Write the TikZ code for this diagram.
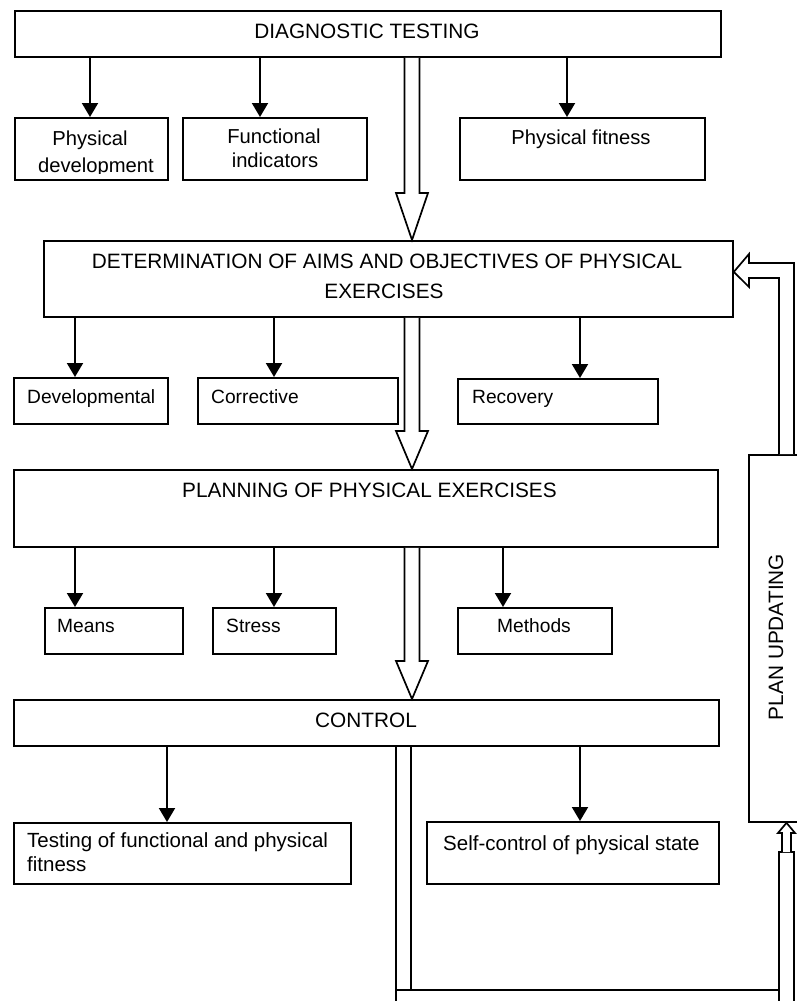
\documentclass[tikz,border=0pt]{standalone}
\usepackage{fontspec}
\setmainfont{Liberation Sans}
\usetikzlibrary{arrows.meta,calc}
\newcommand\hollowdown[3]{%
  \draw[pipe] let \p1=(#1.south), \p2=(#2.north) in
    (404.5pt,\y1) -- (404.5pt,\y2+#3) -- (396pt,\y2+#3) -- (412pt,\y2)
    -- (428pt,\y2+#3) -- (419.5pt,\y2+#3) -- (419.5pt,\y1);}
\begin{document}
\begin{tikzpicture}[x=1pt,y=-1pt,
  box/.style={draw, line width=1.8pt, rectangle, inner sep=0pt, anchor=north west},
  capt/.style={font=\fontsize{20.8}{25}\selectfont, inner sep=0pt},
  rowa/.style={font=\fontsize{20.2}{24}\selectfont, inner sep=0pt},
  rowb/.style={font=\fontsize{19.2}{23}\selectfont, inner sep=0pt},
  rowc/.style={font=\fontsize{20.5}{24}\selectfont, inner sep=0pt},
  arr/.style={line width=2pt, -{Triangle[length=14pt,width=16pt]}},
  pipe/.style={draw, line width=1.7pt, fill=white, line join=miter},
]
\useasboundingbox (0,0) rectangle (797,1001);
\clip (0,0) rectangle (797,1001);

% ---------- boxes ----------
\node[box, minimum width=706pt, minimum height=46pt] (diag) at (14,10) {};
\node[box, minimum width=153pt, minimum height=62pt] (pd) at (14,117) {};
\node[box, minimum width=184pt, minimum height=62pt] (fi) at (182,117) {};
\node[box, minimum width=245pt, minimum height=62pt] (pf) at (459,117) {};
\node[box, minimum width=689pt, minimum height=76pt] (det) at (43,240) {};
\node[box, minimum width=154pt, minimum height=46pt] (dev) at (13,377) {};
\node[box, minimum width=200pt, minimum height=46pt] (cor) at (197,377) {};
\node[box, minimum width=200pt, minimum height=45pt] (rec) at (457,378) {};
\node[box, minimum width=704pt, minimum height=77pt] (plan) at (13,469) {};
\node[box, minimum width=138pt, minimum height=46pt] (means) at (44,607) {};
\node[box, minimum width=123pt, minimum height=46pt] (stress) at (212,607) {};
\node[box, minimum width=154pt, minimum height=46pt] (meth) at (457,607) {};
\node[box, minimum width=705pt, minimum height=46pt] (ctrl) at (13,699) {};
\node[box, minimum width=337pt, minimum height=61pt] (test) at (13,822) {};
\node[box, minimum width=292pt, minimum height=62pt] (self) at (426,821) {};
\node[box, minimum width=70pt, minimum height=367pt] (upd) at (748,454) {};

% ---------- texts ----------
\node[capt, anchor=base] (tdiag) at (367,38) {DIAGNOSTIC TESTING};
\node[rowa, anchor=base] (tpd1) at (90,145) {Physical};
\begin{scope}
  \clip (15,118) rectangle (166,173);
  \node[rowa, anchor=base] (tpd2) at (96,172) {development};
\end{scope}
\node[rowa, anchor=base] (tfi1) at (274,143) {Functional};
\node[rowa, anchor=base] (tfi2) at (275,167) {indicators};
\node[rowa, anchor=base] (tpf) at (581,144) {Physical fitness};
\node[capt, anchor=base] (tdet1) at (387,268) {DETERMINATION OF AIMS AND OBJECTIVES OF PHYSICAL};
\node[capt, anchor=base] (tdet2) at (384,298.5) {EXERCISES};
\node[rowb, anchor=base west] (tdev) at (27,403) {Developmental};
\node[rowb, anchor=base west] (tcor) at (211,403) {Corrective};
\node[rowb, anchor=base west] (trec) at (472,403) {Recovery};
\node[capt, anchor=base west] (tplan) at (182,497) {PLANNING OF PHYSICAL EXERCISES};
\node[rowb, anchor=base west] (tmeans) at (57,632) {Means};
\node[rowb, anchor=base west] (tstress) at (226,632) {Stress};
\node[rowb, anchor=base] (tmeth) at (534,632) {Methods};
\node[capt, anchor=base west] (tctrl) at (315,727) {CONTROL};
\node[rowc, anchor=base west] (ttest1) at (27,847) {Testing of functional and physical};
\node[rowc, anchor=base west] (ttest2) at (27,871) {fitness};
\node[rowc, anchor=base west] (tself) at (443,850) {Self-control of physical state};
\node[capt, anchor=base, rotate=90] (tupd) at (783,637) {PLAN UPDATING};

% ---------- x positions of thin arrows ----------
\coordinate (xa1) at (90,0);
\coordinate (xa2) at (260,0);
\coordinate (xa3) at (567,0);
\coordinate (xb1) at (75,0);
\coordinate (xb2) at (274,0);
\coordinate (xb3) at (580,0);
\coordinate (xc3) at (503,0);
\coordinate (xd1) at (167,0);

\draw[arr] (diag.south -| xa1) -- (pd.north -| xa1);
\draw[arr] (diag.south -| xa2) -- (fi.north -| xa2);
\draw[arr] (diag.south -| xa3) -- (pf.north -| xa3);
\draw[arr] (det.south -| xb1) -- (dev.north -| xb1);
\draw[arr] (det.south -| xb2) -- (cor.north -| xb2);
\draw[arr] (det.south -| xb3) -- (rec.north -| xb3);
\draw[arr] (plan.south -| xb1) -- (means.north -| xb1);
\draw[arr] (plan.south -| xb2) -- (stress.north -| xb2);
\draw[arr] (plan.south -| xc3) -- (meth.north -| xc3);
\draw[arr] (ctrl.south -| xd1) -- (test.north -| xd1);
\draw[arr] (ctrl.south -| xb3) -- (self.north -| xb3);

% ---------- hollow main arrows ----------
\hollowdown{diag}{det}{47pt}
\hollowdown{det}{plan}{38pt}
\hollowdown{plan}{ctrl}{38pt}

% ---------- feedback pipe ----------
\coordinate (pl) at (396,0);
\coordinate (pr) at (411,0);
\coordinate (ql) at (779,0);
\coordinate (qr) at (794,0);
\coordinate (ua) at (786.5,0);
\draw[line width=1.7pt] (ctrl.south -| pl) -- (396,1010);
\draw[line width=1.7pt] (ctrl.south -| pr) -- (411,990);
\draw[line width=1.7pt] (396,990) -- (779,990);
\draw[pipe] (779,1010) -- (779,852) -- (794,852) -- (794,1010);
\draw[pipe] (782,852) -- (782,833) -- (778,833) -- (upd.south -| ua)
  -- (795,833) -- (791,833) -- (791,852);
\draw[pipe] (upd.north -| ql) -- (779,278) -- (749,278) -- (749,287)
  -- ([yshift=7pt]det.east) -- (749,254) -- (749,263) -- (794,263) -- (upd.north -| qr);
\end{tikzpicture}
\end{document}
